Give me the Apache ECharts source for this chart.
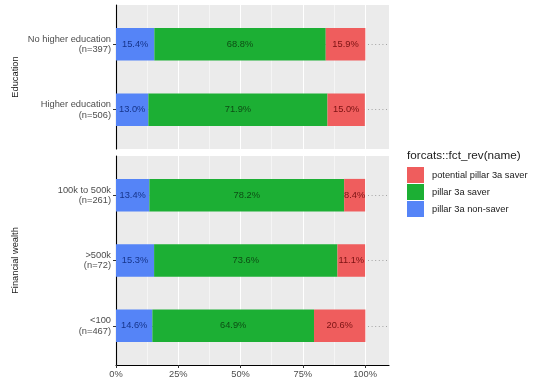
<!DOCTYPE html>
<html><head><meta charset="utf-8">
<script src="https://cdn.jsdelivr.net/npm/echarts@6/dist/echarts.min.js"></script>
<style>html,body{margin:0;padding:0;background:#fff}#c{width:540px;height:386px}</style>
</head><body><div id="c"></div>
<script>
// ---- data ----
const eduCategories = ['Higher education\n(n=506)', 'No higher education\n(n=397)'];
const eduNonSaver = [13.0, 15.4];
const eduSaver = [71.9, 68.8];
const eduPotential = [15.0, 15.9];
const wealthCategories = ['<100\n(n=467)', '>500k\n(n=72)', '100k to 500k\n(n=261)'];
const wealthNonSaver = [14.6, 15.3, 13.4];
const wealthSaver = [64.9, 73.6, 78.2];
const wealthPotential = [20.6, 11.1, 8.4];
const xTicks = [0, 25, 50, 75, 100];
const xMinorTicks = [12.5, 37.5, 62.5, 87.5];
const seriesNames = ['potential pillar 3a saver', 'pillar 3a saver', 'pillar 3a non-saver'];
const facetNames = ['Education', 'Financial wealth'];
const legendTitle = 'forcats::fct_rev(name)';

// ---- style / layout ----
const FONT = 'Liberation Sans, Arial, sans-serif';
const colors = { potential: '#EF5D5D', saver: '#1CAF34', non: '#5584F7' };
const textColors = { potential: '#7a1212', saver: '#0d4d14', non: '#16348a' };
const L = 116, W = 273, X_MAX = 109.6;
const pTop = { top: 5, h: 144, n: eduCategories.length };
const pBot = { top: 156, h: 209, n: wealthCategories.length };
function barGrid(p) {
  const unit = p.h / (p.n + 0.2);
  return { left: L, width: W, top: p.top + 0.6 * unit, height: unit * (p.n - 1) };
}
const barW = 32.6;

const chart = echarts.init(document.getElementById('c'), null, { renderer: 'canvas' });

function bgXAxis(grid, labels) {
  return [{
    type: 'value', gridIndex: grid, min: 0, max: X_MAX, interval: 25,
    axisLine: { show: labels, onZero: false, lineStyle: { color: '#000', width: 1.1 } },
    axisTick: { show: labels, length: 3, customValues: xTicks, lineStyle: { color: '#333' } },
    axisLabel: { show: labels, customValues: xTicks, formatter: v => v + '%', margin: 5,
      fontFamily: FONT, fontSize: 9.3, color: '#4D4D4D' },
    splitLine: { show: true, lineStyle: { color: '#fff', width: 1.1 } }
  }, {
    type: 'value', gridIndex: grid, min: 0, max: X_MAX, interval: 12.5,
    axisLine: { show: false }, axisTick: { show: false }, axisLabel: { show: false },
    splitLine: { show: true, lineStyle: { color: '#fff', width: 0.5 } }
  }];
}
function barXAxis(grid) {
  return { type: 'value', gridIndex: grid, min: 0, max: X_MAX, show: false };
}
function bgYAxis(grid, name) {
  return {
    type: 'value', gridIndex: grid, min: 0, max: 1,
    axisLine: { show: true, lineStyle: { color: '#000', width: 1.1 } },
    axisTick: { show: false }, axisLabel: { show: false }, splitLine: { show: false },
    name: name, nameLocation: 'middle', nameRotate: 90, nameGap: 96,
    nameTextStyle: { fontFamily: FONT, fontSize: 9.3, color: '#1A1A1A' }
  };
}
function barYAxis(grid, cats) {
  return {
    type: 'category', gridIndex: grid, data: cats, boundaryGap: false,
    axisLine: { show: false },
    axisTick: { show: true, length: 3, lineStyle: { color: '#333' } },
    axisLabel: { interval: 0, margin: 5, fontFamily: FONT, fontSize: 9.3, lineHeight: 10.5,
      color: '#4D4D4D', align: 'right', showMinLabel: true, showMaxLabel: true },
    splitLine: { show: true, lineStyle: { color: '#a3a3a3', width: 1, type: [1, 2.6] } }
  };
}
function barSeries(xi, yi, stack, non, saver, pot) {
  const mk = (name, data, key) => ({
    name: name, type: 'bar', stack: stack, xAxisIndex: xi, yAxisIndex: yi,
    data: data, barWidth: barW, itemStyle: { color: colors[key] },
    label: { show: true, position: 'inside', formatter: p => p.value.toFixed(1) + '%',
      fontFamily: FONT, fontSize: 9.3, color: textColors[key] },
    emphasis: { disabled: true }, animation: false
  });
  return [mk(seriesNames[2], non, 'non'), mk(seriesNames[1], saver, 'saver'), mk(seriesNames[0], pot, 'potential')];
}

const option = {
  backgroundColor: '#fff',
  animation: false,
  title: { text: legendTitle, left: 407, top: 150, padding: 0,
    textStyle: { fontFamily: FONT, fontSize: 11.7, fontWeight: 'normal', color: '#1A1A1A' } },
  legend: {
    orient: 'vertical', left: 407, top: 167, padding: 0, itemWidth: 17, itemHeight: 16, itemGap: 1,
    icon: 'rect', data: seriesNames, selectedMode: false,
    textStyle: { fontFamily: FONT, fontSize: 9.3, color: '#1A1A1A', padding: [0, 0, 0, 3] }
  },
  grid: [
    { left: L, width: W, top: pTop.top, height: pTop.h, show: true, backgroundColor: '#EBEBEB', borderWidth: 0 },
    barGrid(pTop),
    { left: L, width: W, top: pBot.top, height: pBot.h, show: true, backgroundColor: '#EBEBEB', borderWidth: 0 },
    barGrid(pBot)
  ],
  xAxis: [].concat(bgXAxis(0, false), [barXAxis(1)], bgXAxis(2, true), [barXAxis(3)]),
  yAxis: [bgYAxis(0, facetNames[0]), barYAxis(1, eduCategories), bgYAxis(2, facetNames[1]), barYAxis(3, wealthCategories)],
  series: [].concat(
    barSeries(2, 1, 'edu', eduNonSaver, eduSaver, eduPotential),
    barSeries(5, 3, 'wealth', wealthNonSaver, wealthSaver, wealthPotential)
  )
};
chart.setOption(option);
</script></body></html>
